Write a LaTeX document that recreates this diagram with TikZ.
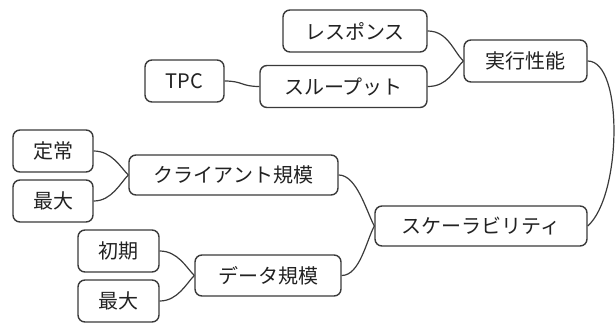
\documentclass[tikz,border=0pt]{standalone}
\usepackage{fontspec}
\newfontfamily\jp{Noto Sans CJK JP}
\definecolor{boxline}{HTML}{3A3A3A}
\definecolor{txt}{HTML}{222222}
\begin{document}
\begin{tikzpicture}[x=1pt,y=-1pt,
  mbox/.style={draw=boxline, line width=1.4pt, rounded corners=7pt, fill=white,
    minimum height=42pt, inner sep=0pt, font=\jp\fontsize{20}{23}\selectfont, text=txt},
  link/.style={draw=boxline, line width=1.2pt}]
\useasboundingbox (0,0) rectangle (615,324);
\node[mbox, minimum width=144pt] (resp) at (355,31) {レスポンス};
\node[mbox, minimum width=167pt] (thru) at (343.5,86.5) {スループット};
\node[mbox, minimum width=123pt] (jikko) at (525.5,61) {実行性能};
\node[mbox, minimum width=79pt] (tpc) at (184.5,81) {TPC};
\node[mbox, minimum width=80pt] (teijo) at (53,151) {定常};
\node[mbox, minimum width=80pt] (saidaiA) at (53,201) {最大};
\node[mbox, minimum width=209pt, minimum height=40pt] (client) at (233.5,175) {クライアント規模};
\node[mbox, minimum width=212pt, minimum height=40pt] (scal) at (481,226) {スケーラビリティ};
\node[mbox, minimum width=81pt] (shoki) at (118.5,251) {初期};
\node[mbox, minimum width=81pt] (saidaiB) at (118.5,301) {最大};
\node[mbox, minimum width=146pt, minimum height=41pt] (data) at (268,275.5) {データ規模};
\draw[link] (resp.east) .. controls +(20,0) and +(-10,-10) .. (jikko.west);
\draw[link] (thru.east) .. controls +(20,0) and +(-10,10) .. (jikko.west);
\draw[link] (tpc.east) .. controls +(18,0) and +(-18,0) .. (thru.west);
\draw[link] (teijo.east) .. controls +(18,0) and +(-8,-8) .. (client.west);
\draw[link] (saidaiA.east) .. controls +(18,0) and +(-8,8) .. (client.west);
\draw[link] (shoki.east) .. controls +(18,0) and +(-8,-8) .. (data.west);
\draw[link] (saidaiB.east) .. controls +(18,0) and +(-8,8) .. (data.west);
\draw[link] (client.east) .. controls +(18,0) and +(-8,-15) .. (scal.west);
\draw[link] (data.east) .. controls +(18,0) and +(-8,15) .. (scal.west);
\draw[link] (jikko.east) .. controls +(36,0) and +(34,-30) .. (scal.east);
\end{tikzpicture}
\end{document}
